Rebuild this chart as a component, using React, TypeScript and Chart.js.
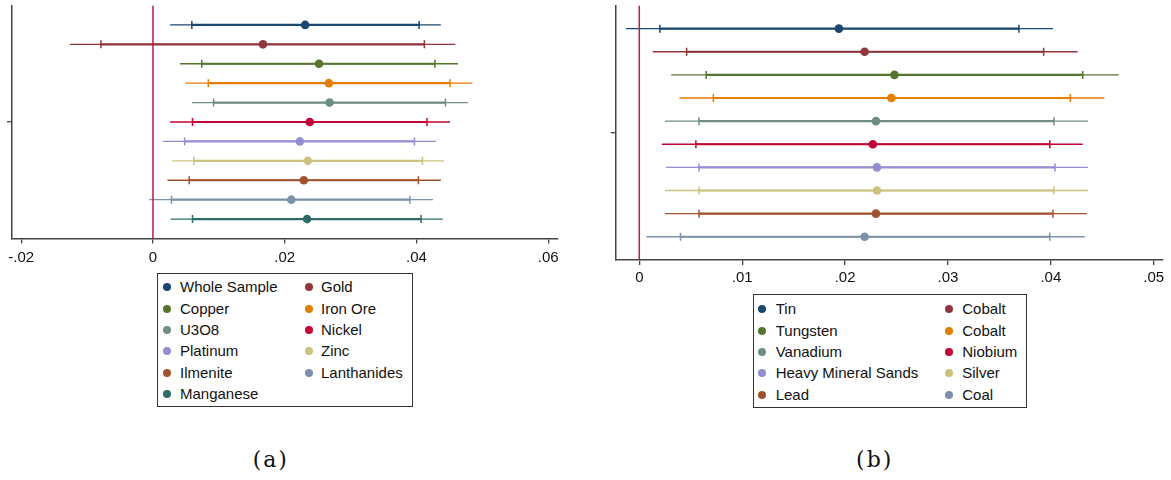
import React, { useEffect, useRef } from 'react';
import { Chart, registerables } from 'chart.js';

Chart.register(...registerables);

// ---------------- Data: panel (a) ----------------
const leftCategories = ['Whole Sample', 'Gold', 'Copper', 'Iron Ore', 'U3O8', 'Nickel', 'Platinum', 'Zinc', 'Ilmenite', 'Lanthanides', 'Manganese'];
const leftEstimate = [0.0231, 0.0167, 0.0252, 0.0267, 0.0268, 0.0238, 0.0223, 0.0235, 0.0229, 0.0210, 0.0234];
const leftLow95 = [0.0026, -0.0126, 0.0041, 0.0049, 0.0059, 0.0026, 0.0015, 0.0029, 0.0022, -0.0006, 0.0027];
const leftHigh95 = [0.0437, 0.0459, 0.0463, 0.0485, 0.0478, 0.0451, 0.0430, 0.0442, 0.0437, 0.0425, 0.0440];
const leftLow90 = [0.0059, -0.0079, 0.0074, 0.0084, 0.0092, 0.0060, 0.0048, 0.0062, 0.0055, 0.0028, 0.0060];
const leftHigh90 = [0.0404, 0.0412, 0.0428, 0.0451, 0.0444, 0.0416, 0.0397, 0.0409, 0.0403, 0.0390, 0.0407];
const leftTickValues = [-0.02, 0, 0.02, 0.04, 0.06];
const leftTickLabels = ['-.02', '0', '.02', '.04', '.06'];

// ---------------- Data: panel (b) ----------------
const rightCategories = ['Tin', 'Cobalt', 'Tungsten', 'Cobalt', 'Vanadium', 'Niobium', 'Heavy Mineral Sands', 'Silver', 'Lead', 'Coal'];
const rightEstimate = [0.0194, 0.0219, 0.0248, 0.0245, 0.0230, 0.0227, 0.0231, 0.0231, 0.0230, 0.0219];
const rightLow95 = [-0.0013, 0.0013, 0.0031, 0.0039, 0.0025, 0.0022, 0.0026, 0.0025, 0.0025, 0.0007];
const rightHigh95 = [0.0402, 0.0426, 0.0466, 0.0452, 0.0436, 0.0431, 0.0436, 0.0436, 0.0435, 0.0433];
const rightLow90 = [0.0020, 0.0046, 0.0065, 0.0072, 0.0058, 0.0055, 0.0058, 0.0058, 0.0058, 0.0040];
const rightHigh90 = [0.0369, 0.0393, 0.0431, 0.0419, 0.0403, 0.0399, 0.0404, 0.0403, 0.0402, 0.0399];
const rightTickValues = [0, 0.01, 0.02, 0.03, 0.04, 0.05];
const rightTickLabels = ['0', '.01', '.02', '.03', '.04', '.05'];

// ---------------- Styles ----------------
const palette = ['#1a476f', '#90353b', '#55752f', '#e37e00', '#6e8e84', '#c10534', '#938dd2', '#cac27e', '#a0522d', '#7b92a8', '#2d6d66'];
const zeroColor = '#b71c44';
const axisColor = '#444444';
const FONT = "'Liberation Sans', Arial, sans-serif";

type PanelSpec = {
  cats: string[];
  est: number[];
  lo95: number[];
  hi95: number[];
  lo90: number[];
  hi90: number[];
  tickValues: number[];
  tickLabels: string[];
  xMin: number;
  xMax: number;
  yAxisWidth: number;
  xAxisHeight: number;
  padTop: number;
  padRight: number;
  tickPad: number;
};

function buildConfig(p: PanelSpec): any {
  const n = p.cats.length;
  const datasets: any[] = [];
  datasets.push({
    type: 'line',
    data: [{ x: 0, y: 0 }, { x: 0, y: n + 1 }],
    borderColor: zeroColor,
    borderWidth: 1.5,
    pointRadius: 0,
    order: 0,
  });
  p.cats.forEach((c, i) => {
    const y = n - i;
    const col = palette[i];
    datasets.push({
      type: 'line',
      label: c,
      data: [{ x: p.lo95[i], y }, { x: p.hi95[i], y }],
      borderColor: col,
      borderWidth: 1.3,
      pointRadius: 0,
      order: 3,
    });
    datasets.push({
      type: 'line',
      data: [{ x: p.lo90[i], y }, { x: p.hi90[i], y }],
      borderColor: col,
      borderWidth: 2.2,
      pointStyle: 'line',
      pointRotation: 90,
      pointRadius: 4,
      pointBorderWidth: 1.5,
      pointBorderColor: col,
      pointBackgroundColor: col,
      order: 2,
    });
    datasets.push({
      type: 'scatter',
      data: [{ x: p.est[i], y }],
      backgroundColor: col,
      borderColor: col,
      borderWidth: 0,
      pointRadius: 4.3,
      order: 1,
    });
  });

  const gridOpts = {
    display: true,
    drawOnChartArea: false,
    drawTicks: true,
    tickLength: 5,
    color: axisColor,
    lineWidth: 1.3,
  };
  const borderOpts = { display: true, color: axisColor, width: 1.5 };

  return {
    type: 'scatter',
    data: { datasets },
    options: {
      animation: false,
      responsive: false,
      devicePixelRatio: 1,
      events: [],
      layout: { padding: { top: p.padTop, right: p.padRight, left: 0, bottom: 0 } },
      plugins: { legend: { display: false }, tooltip: { enabled: false }, title: { display: false } },
      scales: {
        x: {
          type: 'linear',
          min: p.xMin,
          max: p.xMax,
          afterBuildTicks: (s: any) => {
            s.ticks = p.tickValues.map((v) => ({ value: v }));
          },
          afterFit: (s: any) => {
            s.height = p.xAxisHeight;
          },
          grid: gridOpts,
          border: borderOpts,
          ticks: {
            padding: p.tickPad,
            color: '#111111',
            autoSkip: false,
            maxRotation: 0,
            font: { family: FONT, size: 15 },
            callback: (v: number) => {
              const idx = p.tickValues.findIndex((t) => Math.abs(t - v) < 1e-9);
              return idx >= 0 ? p.tickLabels[idx] : '';
            },
          },
        },
        y: {
          type: 'linear',
          min: 0,
          max: n + 1,
          afterBuildTicks: (s: any) => {
            s.ticks = [{ value: (n + 1) / 2 }];
          },
          afterFit: (s: any) => {
            s.width = p.yAxisWidth;
          },
          grid: gridOpts,
          border: borderOpts,
          ticks: { display: false },
        },
      },
    },
  };
}

function Panel(props: { spec: PanelSpec; left: number; top: number; width: number; height: number }) {
  const ref = useRef<HTMLCanvasElement | null>(null);
  useEffect(() => {
    if (!ref.current) return;
    const chart = new Chart(ref.current, buildConfig(props.spec));
    return () => chart.destroy();
  }, []);
  return (
    <canvas
      ref={ref}
      width={props.width}
      height={props.height}
      style={{ position: 'absolute', left: props.left, top: props.top, width: props.width, height: props.height }}
    />
  );
}

function Legend(props: {
  cats: string[];
  box: { left: number; top: number; width: number; height: number };
  rowY0: number;
  rowDy: number;
  markerX: number[];
  textX: number[];
}) {
  const { box } = props;
  return (
    <div
      style={{
        position: 'absolute',
        left: box.left,
        top: box.top,
        width: box.width,
        height: box.height,
        border: '1px solid #333333',
        boxSizing: 'border-box',
        background: '#ffffff',
      }}
    >
      {props.cats.map((c, i) => {
        const col = i % 2;
        const row = Math.floor(i / 2);
        const cy = props.rowY0 + row * props.rowDy - box.top;
        return (
          <React.Fragment key={i}>
            <span
              style={{
                position: 'absolute',
                left: props.markerX[col] - box.left - 4 - 1,
                top: cy - 4 - 1,
                width: 8,
                height: 8,
                borderRadius: '50%',
                background: palette[i],
              }}
            />
            <span
              style={{
                position: 'absolute',
                left: props.textX[col] - box.left - 1,
                top: cy - 10 - 1,
                height: 20,
                lineHeight: '20px',
                fontFamily: FONT,
                fontSize: 15,
                color: '#111111',
                whiteSpace: 'nowrap',
              }}
            >
              {c}
            </span>
          </React.Fragment>
        );
      })}
    </div>
  );
}

const leftSpec: PanelSpec = {
  cats: leftCategories,
  est: leftEstimate,
  lo95: leftLow95,
  hi95: leftHigh95,
  lo90: leftLow90,
  hi90: leftHigh90,
  tickValues: leftTickValues,
  tickLabels: leftTickLabels,
  xMin: -0.0214,
  xMax: 0.06144,
  yAxisWidth: 12,
  xAxisHeight: 270 - 238.5,
  padTop: 4.5,
  padRight: 570 - 557.7,
  tickPad: 5,
};

const rightSpec: PanelSpec = {
  cats: rightCategories,
  est: rightEstimate,
  lo95: rightLow95,
  hi95: rightHigh95,
  lo90: rightLow90,
  hi90: rightHigh90,
  tickValues: rightTickValues,
  tickLabels: rightTickLabels,
  xMin: -0.002294,
  xMax: 0.05087,
  yAxisWidth: 25.7,
  xAxisHeight: 300 - 259.9,
  padTop: 4.5,
  padRight: 581 - 572.7,
  tickPad: 4,
};

export default function App() {
  const captionStyle: React.CSSProperties = {
    position: 'absolute',
    top: 446,
    width: 80,
    height: 28,
    lineHeight: '28px',
    textAlign: 'center',
    fontFamily: "'DejaVu Serif', 'Liberation Serif', serif",
    fontSize: 22,
    letterSpacing: 2,
    color: '#111111',
  };
  return (
    <div style={{ position: 'absolute', left: 0, top: 0, width: 1171, height: 480, background: '#ffffff', overflow: 'hidden' }}>
      <Panel spec={leftSpec} left={0} top={0} width={570} height={270} />
      <Panel spec={rightSpec} left={590} top={0} width={581} height={300} />
      <Legend
        cats={leftCategories}
        box={{ left: 156.7, top: 272.7, width: 256.6, height: 134.6 }}
        rowY0={287.3}
        rowDy={21.4}
        markerX={[167.3, 308.7]}
        textX={[180, 321]}
      />
      <Legend
        cats={rightCategories}
        box={{ left: 752.7, top: 294.3, width: 274, height: 113.4 }}
        rowY0={309.3}
        rowDy={21.35}
        markerX={[762.3, 949]}
        textX={[775.7, 962.3]}
      />
      <div style={{ ...captionStyle, left: 270.8 - 40 }}>(a)</div>
      <div style={{ ...captionStyle, left: 874.7 - 40 }}>(b)</div>
    </div>
  );
}
